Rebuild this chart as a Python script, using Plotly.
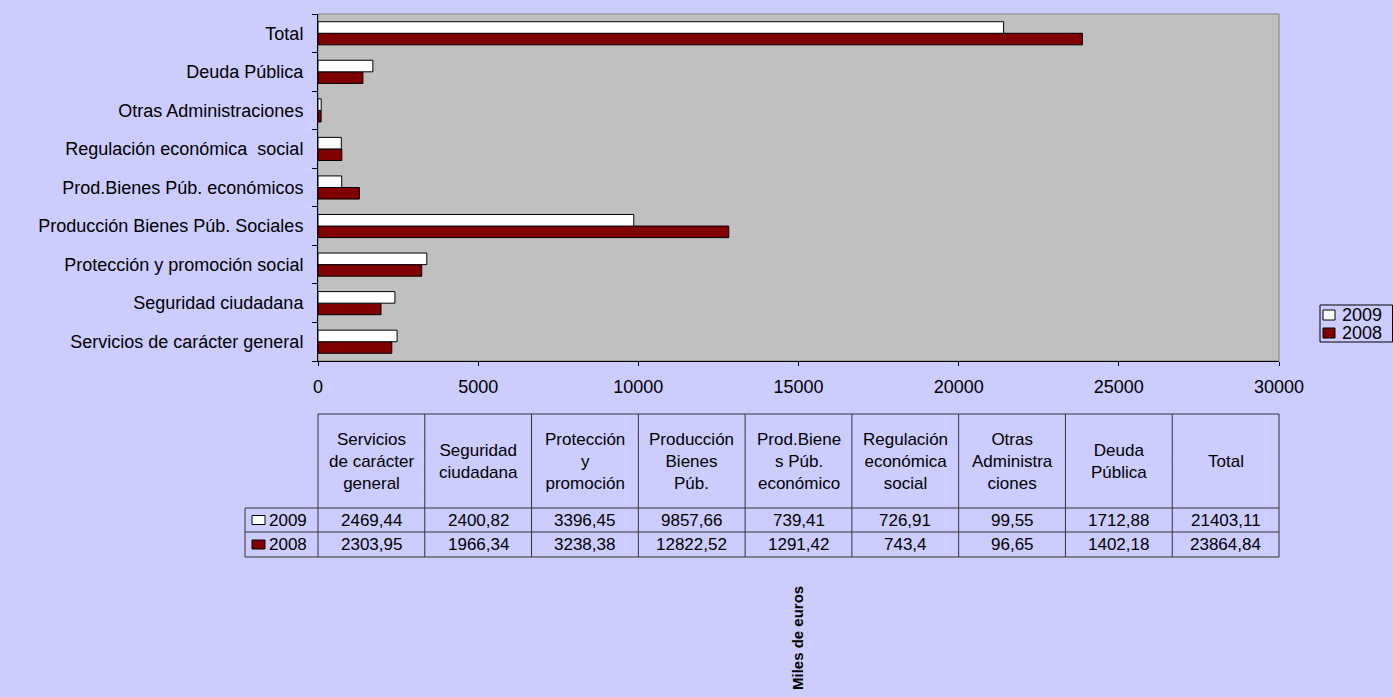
import plotly.graph_objects as go

# ---------------- data ----------------
categories = [
    "Servicios de carácter general",
    "Seguridad ciudadana",
    "Protección y promoción social",
    "Producción Bienes Púb. Sociales",
    "Prod.Bienes Púb. económicos",
    "Regulación económica  social",
    "Otras Administraciones",
    "Deuda Pública",
    "Total",
]
table_headers = [
    "Servicios<br>de carácter<br>general",
    "Seguridad<br>ciudadana",
    "Protección<br>y<br>promoción",
    "Producción<br>Bienes<br>Púb.",
    "Prod.Biene<br>s Púb.<br>económico",
    "Regulación<br>económica<br>social",
    "Otras<br>Administra<br>ciones",
    "Deuda<br>Pública",
    "Total",
]
values_2009 = [2469.44, 2400.82, 3396.45, 9857.66, 739.41, 726.91, 99.55, 1712.88, 21403.11]
values_2008 = [2303.95, 1966.34, 3238.38, 12822.52, 1291.42, 743.4, 96.65, 1402.18, 23864.84]
series_names = ["2009", "2008"]
x_ticks = [0, 5000, 10000, 15000, 20000, 25000, 30000]
axis_title = "Miles de euros"

# ---------------- style ----------------
FONT = "Liberation Sans, Arial, sans-serif"
PAGE_BG = "#CCCCFF"
PLOT_BG = "#C0C0C0"
RED = "#800000"
WHITE = "#FFFFFF"
W, H = 1393, 697
L, R, T, B = 318, 1279, 14, 361
FS = 18


def px(x):
    return (x - L) / (R - L)


def py(y):
    return (B - y) / (B - T)


fig = go.Figure()
fig.add_trace(go.Bar(
    y=categories, x=values_2008, orientation="h", name=series_names[1],
    marker=dict(color=RED, line=dict(color="#000000", width=1)),
))
fig.add_trace(go.Bar(
    y=categories, x=values_2009, orientation="h", name=series_names[0],
    marker=dict(color=WHITE, line=dict(color="#000000", width=1)),
))

shapes = []
annotations = []

# plot-area border (gray)
shapes.append(dict(type="rect", xref="paper", yref="paper", x0=0, x1=1, y0=0, y1=1,
                   line=dict(color="#808080", width=1), layer="below"))

# ---------------- data table ----------------
n = len(categories)
hdr_top, hdr_bot, row1_bot, row2_bot = 414, 508, 532, 557
leg_left = 245
LINE = dict(color="#333333", width=1)

shapes.append(dict(type="line", xref="paper", yref="paper", x0=0, x1=1,
                   y0=py(hdr_top), y1=py(hdr_top), line=LINE))
for yy in (hdr_bot, row1_bot, row2_bot):
    shapes.append(dict(type="line", xref="paper", yref="paper", x0=px(leg_left), x1=1,
                       y0=py(yy), y1=py(yy), line=LINE))
shapes.append(dict(type="line", xref="paper", yref="paper", x0=px(leg_left), x1=px(leg_left),
                   y0=py(hdr_bot), y1=py(row2_bot), line=LINE))
for i in range(n + 1):
    shapes.append(dict(type="line", xref="paper", yref="paper", x0=i / n, x1=i / n,
                       y0=py(hdr_top), y1=py(row2_bot), line=LINE))

TF = dict(family=FONT, size=17, color="#000000")
for i, h in enumerate(table_headers):
    annotations.append(dict(xref="paper", yref="paper", x=(i + 0.5) / n,
                            y=py((hdr_top + hdr_bot) / 2), text=h, showarrow=False,
                            xanchor="center", yanchor="middle", align="center", font=TF))


def fmt(v):
    return str(v).replace(".", ",")


rows = [(series_names[0], values_2009, WHITE, (hdr_bot + row1_bot) / 2),
        (series_names[1], values_2008, RED, (row1_bot + row2_bot) / 2)]
for name, vals, col, yc in rows:
    for i, v in enumerate(vals):
        annotations.append(dict(xref="paper", yref="paper", x=(i + 0.5) / n, y=py(yc),
                                text=fmt(v), showarrow=False, xanchor="center",
                                yanchor="middle", font=TF))
    shapes.append(dict(type="rect", xref="paper", yref="paper", x0=px(252), x1=px(265),
                       y0=py(yc + 4.5), y1=py(yc - 4.5), fillcolor=col,
                       line=dict(color="#000000", width=1)))
    annotations.append(dict(xref="paper", yref="paper", x=px(267), y=py(yc), text=name,
                            showarrow=False, xanchor="left", yanchor="middle", font=TF))

# ---------------- legend (drawn) ----------------
shapes.append(dict(type="rect", xref="paper", yref="paper", x0=px(1320), x1=px(1392.5),
                   y0=py(305), y1=py(342), line=dict(color="#000000", width=1),
                   fillcolor=PAGE_BG))
leg_rows = [(series_names[0], WHITE, 315), (series_names[1], RED, 333)]
for name, col, yc in leg_rows:
    shapes.append(dict(type="rect", xref="paper", yref="paper", x0=px(1323), x1=px(1335),
                       y0=py(yc + 5), y1=py(yc - 5), fillcolor=col,
                       line=dict(color="#000000", width=1)))
    annotations.append(dict(xref="paper", yref="paper", x=px(1340), y=py(yc), text=name,
                            showarrow=False, xanchor="left", yanchor="middle",
                            font=dict(family=FONT, size=FS, color="#000000")))

# rotated axis title below table
annotations.append(dict(xref="paper", yref="paper", x=px(797), y=py(638),
                        text="<b>" + axis_title + "</b>", textangle=-90, showarrow=False,
                        xanchor="center", yanchor="middle",
                        font=dict(family=FONT, size=15, color="#000000")))

fig.update_layout(
    width=W, height=H,
    margin=dict(l=L, r=W - R, t=T, b=H - B, pad=0),
    paper_bgcolor=PAGE_BG, plot_bgcolor=PLOT_BG,
    barmode="group", bargap=0.4, bargroupgap=0,
    font=dict(family=FONT, size=FS, color="#000000"),
    showlegend=False,
    shapes=shapes, annotations=annotations,
    xaxis=dict(range=[0, 30000], tickvals=x_ticks, ticktext=[str(t) for t in x_ticks],
               showgrid=False, zeroline=False, showline=True, linecolor="#000000",
               linewidth=1, ticks="outside", ticklen=4, tickcolor="#000000",
               tickfont=dict(family=FONT, size=FS), ticklabelstandoff=5, fixedrange=True),
    yaxis=dict(showgrid=False, zeroline=False, showline=True, linecolor="#000000",
               linewidth=1, ticks="outside", ticklen=5, tickcolor="#000000",
               tickson="boundaries", tickfont=dict(family=FONT, size=FS),
               ticklabelstandoff=10, fixedrange=True),
)

fig.write_html(
    "out.html",
    config={"displayModeBar": False},
    post_script="document.body.style.margin='0';document.body.style.overflow='hidden';",
)
